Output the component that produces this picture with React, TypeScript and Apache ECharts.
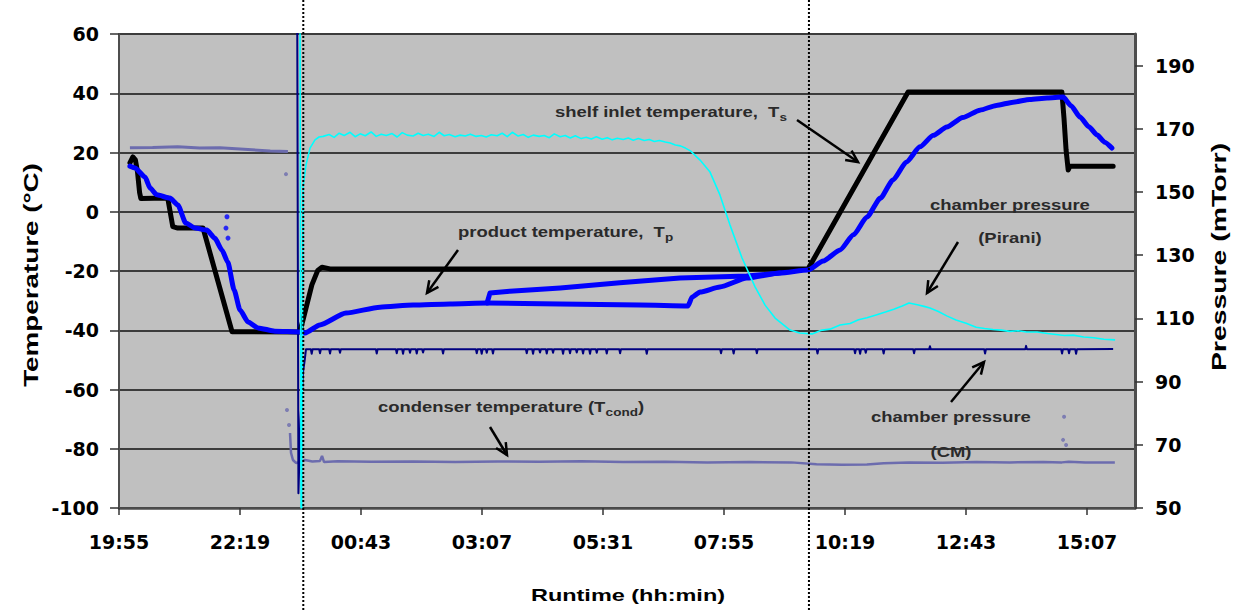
import React, { useEffect, useRef } from "react";
import * as echarts from "echarts";

// ---------- data (x = minutes elapsed since 19:55) ----------
const START_CLOCK = 19 * 60 + 55;
const X_MAX = 1209;
const xTickValues = [0, 144, 288, 432, 576, 720, 864, 1008, 1152];
const pressureTickValues = [50, 70, 90, 110, 130, 150, 170, 190];
const phaseMarkers = [219.3, 821];

const shelfTemp: [number, number][] = [
  [13, 16.5], [16.5, 18.5], [19.5, 17.5], [22, 13.5], [24.5, 6.5], [26, 4.5], [58, 4.6],
  [64, -5], [70, -5.5], [100, -5.5], [134.5, -40.5], [215, -40.6], [219, -36.5],
  [229.5, -24.7], [236.5, -19.8], [241.5, -18.7], [251, -19.3], [820, -19.3], [939, 40.4],
  [1122, 40.4], [1124.5, 31.6], [1127, 20.8], [1129.5, 14.1], [1131.5, 15.4], [1183, 15.4],
];

const productTemp: [number, number][] = [
  [13, 15.4], [19, 14.8], [31, 11.7], [37, 8], [45, 5.7], [60.5, 4.6], [70, 2.3], [79.5, -3.8],
  [90.5, -5.5], [104.5, -6.2], [114, -8.9], [122.5, -12.9], [129.5, -17], [137, -26.4],
  [144, -33.2], [153.5, -37.2], [165.5, -39.2], [185.5, -40.3], [215.5, -40.6], [221.5, -40.9],
  [239, -38.2], [270, -34.2], [310.5, -32.2], [350, -31.5], [394, -31.1], [438, -30.8],
  [525, -31.1], [620, -31.5], [677, -31.8], [682, -28.8], [691.5, -27.1], [715, -25.4],
  [747, -22.4], [786.5, -20.7], [820, -19.7], [838, -16.6], [858, -12.9], [874, -7.8], [890, -1.8],
  [906, 4.6], [921, 10.7], [937, 16.8], [953, 21.9], [969, 25.8], [985, 28.6], [1004, 31.8],
  [1024.5, 34.3], [1044, 35.9], [1064, 37], [1084, 37.9], [1104.5, 38.4], [1123.5, 38.7],
  [1133, 35.8], [1143.5, 32], [1154, 28.7], [1164, 25.9], [1173, 23.5], [1181.5, 21.5],
];

const productTempUpper: [number, number][] = [
  [438, -30.8], [441.5, -27.4], [465, -26.8], [525, -25.7], [596, -24], [667.5, -22.4],
  [747, -21.7], [786.5, -20.7],
];

const productTempDots: [number, number][] = [
  [128.5, -1.7], [127.3, -5.5], [129.7, -8.9],
];

const condenserWarm: [number, number][] = [
  [13, 21.6], [40, 21.7], [70, 21.9], [96, 21.5], [120, 21.6], [144, 21.2], [180, 20.5], [201, 20.3],
];

const condenserCold: [number, number][] = [
  [203.5, -74.7], [204.7, -81.4], [207, -83.8], [210.6, -84.8], [215.4, -84.5], [221.3, -83.8],
  [230, -84.3], [239.2, -84.1], [241.6, -82.4], [244, -84.5], [260, -84.2], [300, -84.4],
  [350, -84.3], [400, -84.5], [450, -84.3], [500, -84.4], [550, -84.2], [600, -84.5],
  [650, -84.4], [700, -84.6], [750, -84.5], [800, -84.6], [830, -85.2], [860, -85.4],
  [890, -85.3], [910, -84.9], [940, -84.6], [980, -84.7], [1020, -84.5], [1060, -84.6],
  [1100, -84.5], [1122, -84.6], [1130, -84.4], [1150, -84.6], [1185, -84.6],
];

const condenserDots: [number, number][] = [
  [198.7, 12.7], [199.9, -66.9], [202.3, -72], [1123.4, -77], [1124.6, -69.2], [1127, -78.7],
];

const piraniPressure: [number, number][] = [
  [215.4, 205], [216.6, 50], [217.5, 50], [219, 151.6], [222.5, 158.5], [227.3, 163.9],
  [233.2, 166.5], [238, 167.4], [243, 167.6], [250, 168.2], [256, 167.3], [262, 168.6],
  [268, 167.9], [275, 168.9], [281, 167.5], [287, 168.4], [293, 167.8], [300, 169.0],
  [306, 167.6], [312, 168.3], [318, 167.9], [325, 168.5], [331, 167.4], [337, 168.8],
  [343, 168.0], [350, 167.7], [356, 168.6], [362, 167.9], [368, 168.3], [375, 167.6],
  [381, 168.9], [387, 167.8], [393, 168.2], [400, 167.5], [406, 168.0], [412, 167.7],
  [418, 168.3], [425, 167.6], [431, 167.9], [437, 167.4], [443, 168.1], [450, 167.8],
  [456, 168.6], [462, 167.5], [468, 168.9], [475, 167.7], [481, 168.2], [487, 167.3],
  [493, 168.0], [500, 167.6], [506, 167.9], [512, 167.2], [518, 168.4], [525, 167.5],
  [531, 167.9], [537, 167.1], [543, 167.8], [550, 166.9], [556, 167.3], [562, 166.8],
  [568, 167.5], [575, 166.7], [581, 167.2], [587, 166.5], [593, 167.0], [600, 166.6],
  [606, 167.1], [612, 166.4], [618, 166.9], [625, 166.3], [631, 166.6], [637, 166.0],
  [643, 166.3], [650, 165.8], [656, 165.5], [662, 164.9], [668, 164.6], [674, 163.9],
  [680, 163.0], [691.4, 160.1], [703.3, 156.3], [715.2, 149], [727, 139.6], [741.4, 129.1],
  [756.9, 120], [768.8, 114.2], [780.7, 110.1], [798.5, 106.3], [810, 105.4], [824.7, 105.1],
  [835, 106.2], [846, 106.6], [858, 107.9], [870, 108.4], [880, 109.6], [890, 110.2],
  [900.9, 111.1], [912, 112.0], [922, 112.9], [932, 113.9], [940.1, 114.9], [950, 114.3],
  [958, 113.8], [965, 113.3], [975, 112.2], [985, 110.8], [996, 109.5], [1008, 108.5],
  [1020, 107.2], [1030, 106.8], [1040, 106.5], [1049.6, 106.3], [1060, 105.9], [1070, 106.1],
  [1080, 105.7], [1092.5, 105.7], [1105, 105.2], [1115, 104.9], [1125, 104.6], [1135.3, 104.7],
  [1148, 104.1], [1160, 103.9], [1172, 103.4], [1185.3, 103.2],
];

const cmPressure: [number, number][] = [
  [212, 215], [213.5, 54.7], [216, 78], [219, 93], [221, 96.8], [222.5, 100.2],
  [228.3, 100.2], [229.3, 98.8], [230.3, 100.2], [238.2, 100.2], [239.2, 99], [240.2, 100.2],
  [250.1, 100.2], [251.1, 98.9], [252.1, 100.2], [262, 100.2], [263, 99.1], [264, 100.2],
  [305.7, 100.2], [306.7, 98.9], [307.7, 100.2], [329.5, 100.2], [330.5, 99], [331.5, 100.2],
  [337, 100.2], [338, 98.8], [339, 100.2], [345.3, 100.2], [346.3, 99.1], [347.3, 100.2],
  [353.3, 100.2], [354.3, 98.9], [355.3, 100.2], [360.8, 100.2], [361.8, 99.2], [362.8, 100.2],
  [384.6, 100.2], [385.6, 98.9], [386.6, 100.2], [424.7, 100.2], [425.7, 99], [426.7, 100.2],
  [430.6, 100.2], [431.6, 98.8], [432.6, 100.2], [436.6, 100.2], [437.6, 99.1], [438.6, 100.2],
  [444, 100.2], [445, 98.9], [446, 100.2], [484.2, 100.2], [485.2, 99], [486.2, 100.2],
  [491.7, 100.2], [492.7, 98.8], [493.7, 100.2], [500, 100.2], [501, 99.2], [502, 100.2],
  [508, 100.2], [509, 98.9], [510, 100.2], [515.5, 100.2], [516.5, 99.1], [517.5, 100.2],
  [527.4, 100.2], [528.4, 98.8], [529.4, 100.2], [535.7, 100.2], [536.7, 99], [537.7, 100.2],
  [543.7, 100.2], [544.7, 99.2], [545.7, 100.2], [551.2, 100.2], [552.2, 98.9], [553.2, 100.2],
  [559.5, 100.2], [560.5, 98.8], [561.5, 100.2], [567.5, 100.2], [568.5, 99.1], [569.5, 100.2],
  [579.4, 100.2], [580.4, 98.9], [581.4, 100.2], [595.3, 100.2], [596.3, 99], [597.3, 100.2],
  [627, 100.2], [628, 98.8], [629, 100.2], [715.4, 100.2], [716.4, 99], [717.4, 100.2],
  [730.4, 100.2], [731.4, 98.9], [732.4, 100.2], [758, 100.2], [759, 99], [760, 100.2],
  [830.2, 100.2], [831.2, 98.9], [832.2, 100.2], [874.9, 100.2], [875.9, 99], [876.9, 100.2],
  [880.9, 100.2], [881.9, 98.8], [882.9, 100.2], [887.6, 100.2], [888.6, 99.1], [889.6, 100.2],
  [908.9, 100.2], [909.9, 98.9], [910.9, 100.2], [945.1, 100.2], [946.1, 99], [947.1, 100.2],
  [964, 100.2], [965, 101.2], [966, 100.2], [1029.6, 100.2], [1030.6, 98.9], [1031.6, 100.2],
  [1078.4, 100.2], [1079.4, 101.3], [1080.4, 100.2], [1121.2, 100.2], [1122.2, 98.9],
  [1123.2, 100.2], [1129.5, 100.2], [1130.5, 99], [1131.5, 100.2], [1137.9, 100.2],
  [1138.9, 98.8], [1139.9, 100.2], [1183, 100.3],
];

// ---------- helpers ----------
const ANN_FONT = '"Liberation Sans", Arial, sans-serif';
const TICK_FONT = '"DejaVu Sans", Verdana, sans-serif';
const ANN_COLOR = "#2a2a2a";
const STRETCH = 1.23;

function fmtClock(v: number): string {
  const m = (START_CLOCK + Math.round(v)) % 1440;
  return String(Math.floor(m / 60)).padStart(2, "0") + ":" + String(m % 60).padStart(2, "0");
}

let measureCtx: CanvasRenderingContext2D | null = null;
function measure(text: string, size: number): number {
  if (!measureCtx) measureCtx = document.createElement("canvas").getContext("2d");
  if (!measureCtx) return text.length * size * 0.55;
  measureCtx.font = `bold ${size}px ${ANN_FONT}`;
  return measureCtx.measureText(text).width;
}

type Part = { t: string; sub?: boolean };
function label(x: number, y: number, parts: Part[], center = false): any[] {
  const els: any[] = [];
  const widths = parts.map((p) => measure(p.t, p.sub ? 11 : 15) * STRETCH);
  const total = widths.reduce((a, b) => a + b, 0);
  let cx = center ? x - total / 2 : x;
  parts.forEach((p, i) => {
    els.push({
      type: "text",
      x: cx,
      y: p.sub ? y + 5 : y,
      scaleX: STRETCH,
      silent: true,
      style: {
        text: p.t,
        x: 0,
        y: 0,
        fill: ANN_COLOR,
        font: `bold ${p.sub ? 11 : 15}px ${ANN_FONT}`,
        textAlign: "left",
        textVerticalAlign: "middle",
        align: "left",
        verticalAlign: "middle",
      },
    });
    cx += widths[i];
  });
  return els;
}

function arrow(x1: number, y1: number, x2: number, y2: number): any[] {
  const ang = Math.atan2(y2 - y1, x2 - x1);
  const L = 13;
  const a = 0.45;
  const p1 = [x2 - L * Math.cos(ang - a), y2 - L * Math.sin(ang - a)];
  const p2 = [x2 - L * Math.cos(ang + a), y2 - L * Math.sin(ang + a)];
  return [
    { type: "line", silent: true, shape: { x1, y1, x2, y2 }, style: { stroke: "#000", lineWidth: 2.5 } },
    {
      type: "polyline",
      silent: true,
      shape: { points: [p1, [x2, y2], p2] },
      style: { stroke: "#000", lineWidth: 2.5, fill: null, lineJoin: "miter" },
    },
  ];
}

export default function App() {
  const ref = useRef<HTMLDivElement>(null);

  useEffect(() => {
    if (!ref.current) return;
    const chart = echarts.init(ref.current, undefined, { renderer: "svg" });

    const tickLabel = { color: "#000", fontFamily: TICK_FONT, fontWeight: "bold" as const, fontSize: 19 };
    const lineBase = { showSymbol: false, symbol: "none", clip: true };

    chart.setOption({
      animation: false,
      backgroundColor: "#ffffff",
      grid: {
        left: 119,
        right: 98,
        top: 34,
        bottom: 102,
        show: true,
        backgroundColor: "#c0c0c0",
        borderWidth: 0,
      },
      xAxis: {
        type: "value",
        min: 0,
        max: X_MAX,
        axisLine: { show: true, onZero: false, lineStyle: { color: "#4d4d4d", width: 2.5 } },
        axisTick: { show: true, length: 7, customValues: xTickValues, lineStyle: { color: "#333", width: 1.5 } },
        axisLabel: { ...tickLabel, margin: 24, customValues: xTickValues, formatter: (v: number) => fmtClock(v) },
        splitLine: { show: false },
      },
      yAxis: [
        {
          type: "value",
          min: -100,
          max: 60,
          interval: 20,
          axisLine: { show: true, lineStyle: { color: "#4d4d4d", width: 2 } },
          axisTick: { show: true, length: 9, lineStyle: { color: "#333", width: 1.5 } },
          axisLabel: { ...tickLabel, margin: 20 },
          splitLine: { show: true, lineStyle: { color: "#3c3c3c", width: 1.8 } },
        },
        {
          type: "value",
          min: 50,
          max: 200,
          position: "right",
          alignTicks: false,
          axisLine: { show: true, lineStyle: { color: "#4d4d4d", width: 3 } },
          axisTick: { show: true, length: 8, customValues: pressureTickValues, lineStyle: { color: "#333", width: 1.5 } },
          axisLabel: { ...tickLabel, margin: 20, customValues: pressureTickValues },
          splitLine: { show: false },
        },
      ],
      series: [
        {
          ...lineBase, type: "line", name: "condenser warm", yAxisIndex: 0, data: condenserWarm,
          lineStyle: { color: "#6c6cae", width: 3 }, z: 2,
        },
        {
          ...lineBase, type: "line", name: "condenser temperature", yAxisIndex: 0, data: condenserCold,
          lineStyle: { color: "#6c6cae", width: 2.5 }, z: 2,
        },
        {
          type: "scatter", name: "condenser dots", yAxisIndex: 0, data: condenserDots,
          symbolSize: 4, itemStyle: { color: "#6c6cae" }, z: 2,
        },
        {
          ...lineBase, type: "line", name: "chamber pressure (CM)", yAxisIndex: 1, data: cmPressure,
          lineStyle: { color: "#000080", width: 2, join: "round" }, z: 3,
        },
        {
          ...lineBase, type: "line", name: "shelf inlet temperature", yAxisIndex: 0, data: shelfTemp,
          lineStyle: { color: "#000000", width: 5, join: "round", cap: "round" }, z: 4,
        },
        {
          ...lineBase, type: "line", name: "product temperature", yAxisIndex: 0, data: productTemp,
          smooth: 0.2, smoothMonotone: "x",
          lineStyle: { color: "#0000ff", width: 5, join: "round", cap: "round" }, z: 5,
        },
        {
          ...lineBase, type: "line", name: "product temperature 2", yAxisIndex: 0, data: productTempUpper,
          lineStyle: { color: "#0000ff", width: 5, join: "round", cap: "round" }, z: 5,
        },
        {
          type: "scatter", name: "product dots", yAxisIndex: 0, data: productTempDots,
          symbolSize: 5, itemStyle: { color: "#0000ff" }, z: 5,
        },
        {
          ...lineBase, type: "line", name: "chamber pressure (Pirani)", yAxisIndex: 1, data: piraniPressure,
          lineStyle: { color: "#00ffff", width: 1.6, join: "round" }, z: 6,
        },
      ],
    });

    const graphics: any[] = [];
    phaseMarkers.forEach((t) => {
      const px = chart.convertToPixel({ xAxisIndex: 0 }, t) as number;
      graphics.push({
        type: "line",
        silent: true,
        z: 100,
        shape: { x1: px, y1: 0, x2: px, y2: 610 },
        style: { stroke: "#000", lineWidth: 2, lineDash: [2, 2] },
      });
    });

    // axis titles
    graphics.push({
      type: "text", x: 31, y: 275, rotation: Math.PI / 2, scaleX: 1.39, silent: true,
      style: {
        text: "Temperature (°C)", x: 0, y: 0, fill: "#000", font: `bold 20px ${ANN_FONT}`,
        align: "center", verticalAlign: "middle", textAlign: "center", textVerticalAlign: "middle",
      },
    });
    graphics.push({
      type: "text", x: 1219, y: 257, rotation: Math.PI / 2, scaleX: 1.42, silent: true,
      style: {
        text: "Pressure (mTorr)", x: 0, y: 0, fill: "#000", font: `bold 20px ${ANN_FONT}`,
        align: "center", verticalAlign: "middle", textAlign: "center", textVerticalAlign: "middle",
      },
    });
    graphics.push({
      type: "text", x: 628, y: 595, scaleX: 1.38, silent: true,
      style: {
        text: "Runtime (hh:min)", x: 0, y: 0, fill: "#000", font: `bold 17px ${ANN_FONT}`,
        align: "center", verticalAlign: "middle", textAlign: "center", textVerticalAlign: "middle",
      },
    });

    // annotations
    graphics.push(...label(555, 112, [{ t: "shelf inlet temperature,  T" }, { t: "s", sub: true }]));
    graphics.push(...arrow(797, 120, 858, 162));
    graphics.push(...label(458, 232, [{ t: "product temperature,  T" }, { t: "p", sub: true }]));
    graphics.push(...arrow(458, 250, 427, 293));
    graphics.push(...label(930, 205, [{ t: "chamber pressure" }]));
    graphics.push(...label(1010, 238, [{ t: "(Pirani)" }], true));
    graphics.push(...arrow(958, 242, 927, 293));
    graphics.push(...label(378, 407, [{ t: "condenser temperature (T" }, { t: "cond", sub: true }, { t: ")" }]));
    graphics.push(...arrow(490, 427, 507, 455));
    graphics.push(...label(871, 417, [{ t: "chamber pressure" }]));
    graphics.push(...label(951, 452, [{ t: "(CM)" }], true));
    graphics.push(...arrow(951, 402, 984, 362));

    chart.setOption({ graphic: { elements: graphics } });

    return () => chart.dispose();
  }, []);

  return (
    <div
      ref={ref}
      style={{ position: "absolute", left: 0, top: 0, width: 1233, height: 610, background: "#fff" }}
    />
  );
}
